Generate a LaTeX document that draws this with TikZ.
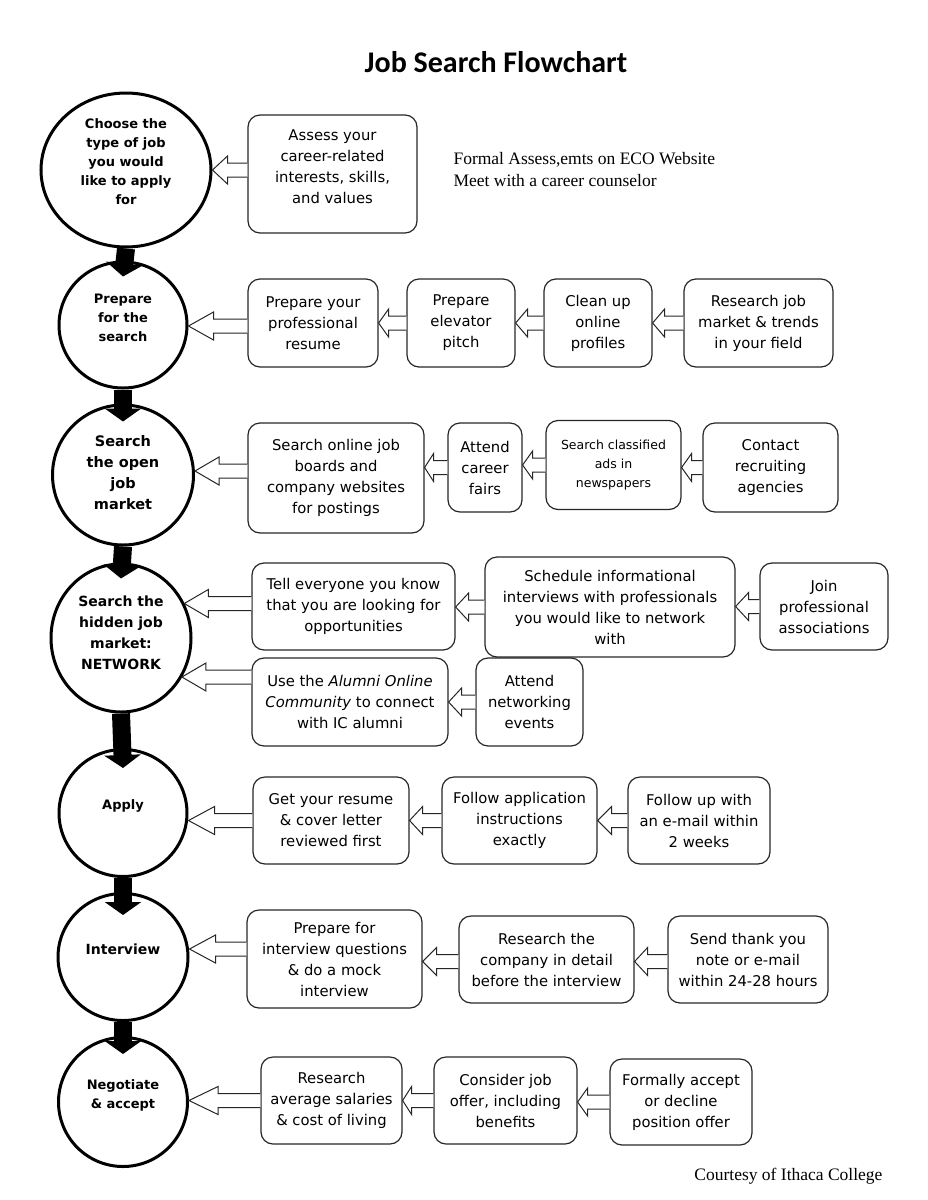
\documentclass[tikz,border=0pt]{standalone}
\usepackage{fontspec}
\setmainfont{Liberation Serif}
\newfontfamily\stepfont{DejaVu Sans}
\newfontfamily\headfont{Carlito}
\usetikzlibrary{arrows.meta,shapes.geometric,calc}

% hollow block arrow: source point, target point, head length
\newcommand{\blockarrow}[3]{%
  \draw[openarrow] let \p1=#1, \p2=#2 in
    (\x1,\y1+7pt) -- (\x2+#3pt,\y1+7pt) -- (\x2+#3pt,\y1+14pt) -- (\x2,\y1)
    -- (\x2+#3pt,\y1-14pt) -- (\x2+#3pt,\y1-7pt) -- (\x1,\y1-7pt);}

\begin{document}
\begin{tikzpicture}[x=1pt,y=-1pt,
	stage/.style={draw,ellipse,line width=3pt,inner sep=0pt},
	stagetext/.style={align=center,font=\stepfont\bfseries\fontsize{13}{19}\selectfont},
	stepbox/.style={draw=black!85,line width=1.2pt,rounded corners=12pt,align=center,inner sep=1pt,font=\stepfont\fontsize{14.8}{21}\selectfont},
	openarrow/.style={draw=black!85,line width=1pt,fill=white},
	flowarrow/.style={line width=18pt,-{Triangle[width=36pt,length=13pt]}}]
			\useasboundingbox (0,0) rectangle (927,1200);
			\node[font=\headfont\bfseries\fontsize{30}{36}\selectfont] (title) at (496,62) {Job Search Flowchart};

			% stages
			\node[stage,minimum width=170,minimum height=154] (c1) at (126,170) {};
			\node[stage,minimum width=128,minimum height=126] (c2) at (123,325) {};
			\node[stage,minimum width=141,minimum height=140] (c3) at (123,475) {};
			\node[stage,minimum width=140,minimum height=148] (c4) at (121,638) {};
			\node[stage,minimum width=128,minimum height=127] (c5) at (123,813) {};
			\node[stage,minimum width=130,minimum height=127] (c6) at (123,957) {};
			\node[stage,minimum width=129,minimum height=129] (c7) at (123,1102) {};
			\node[stagetext] (t1) at ([yshift=8pt]c1.center) {Choose the\\type of job\\you would\\like to apply\\for};
			\node[stagetext] (t2) at ([yshift=7pt]c2.center) {Prepare\\for the\\search};
			\node[stagetext,font=\stepfont\bfseries\fontsize{14.5}{21}\selectfont] (t3) at ([yshift=2pt]c3.center) {Search\\the open\\job\\market};
			\node[stagetext,font=\stepfont\bfseries\fontsize{14}{21}\selectfont] (t4) at ([yshift=5pt]c4.center) {Search the\\hidden job\\market:\\NETWORK};
			\node[stagetext] (t5) at ([yshift=7pt]c5.center) {Apply};
			\node[stagetext,font=\stepfont\bfseries\fontsize{14}{19}\selectfont] (t6) at ([yshift=8pt]c6.center) {Interview};
			\node[stagetext] (t7) at ([yshift=7pt]c7.center) {Negotiate\\\& accept};

			\draw[flowarrow] (c1.south) -- ([yshift=-16pt]c2.north);
			\draw[flowarrow] (c2.south) -- ([yshift=-18pt]c3.north);
			\draw[flowarrow] (c3.south) -- ([yshift=-16pt]c4.north);
			\draw[flowarrow] (c4.south) -- ([yshift=-20pt]c5.north);
			\draw[flowarrow] (c5.south) -- ([yshift=-23pt]c6.north);
			\draw[flowarrow] (c6.south) -- ([yshift=-18pt]c7.north);

			% row 1
			\node[stepbox,minimum width=169,minimum height=118] (assess) at (332.5,174) {Assess your\\career-related\\interests, skills,\\and values\\[-6pt]};
			\node[anchor=west,align=left,font=\fontsize{17.5}{22}\selectfont] (note) at (450,170) {Formal Assess,emts on ECO Website\\Meet with a career counselor};
			\blockarrow{([yshift=4pt]assess.west)}{(c1.east)}{15}

			% row 2
			\node[stepbox,minimum width=130,minimum height=88] (resume) at (313,323) {Prepare your\\professional\\resume};
			\node[stepbox,minimum width=108,minimum height=88] (pitch) at (461,323) {Prepare\\elevator\\pitch};
			\node[stepbox,minimum width=108,minimum height=88] (profiles) at (598,323) {Clean up\\online\\profiles};
			\node[stepbox,minimum width=149,minimum height=88] (trends) at (758.5,323) {Research job\\market \& trends\\in your field};
			\blockarrow{([yshift=-3pt]resume.west)}{(c2.east)}{25}
			\blockarrow{(pitch.west)}{(resume.east)}{10}
			\blockarrow{(profiles.west)}{(pitch.east)}{12}
			\blockarrow{(trends.west)}{(profiles.east)}{12}

			% row 3
			\node[stepbox,minimum width=176,minimum height=110] (postings) at (336,478) {Search online job\\boards and\\company websites\\for postings};
			\node[stepbox,minimum width=74,minimum height=89] (fairs) at (485,467.5) {Attend\\career\\fairs};
			\node[stepbox,minimum width=135,minimum height=89,font=\stepfont\fontsize{12.5}{19}\selectfont] (ads) at (613.5,465) {Search classified\\ads in\\newspapers};
			\node[stepbox,minimum width=135,minimum height=89] (agencies) at (770.5,467.5) {Contact\\recruiting\\agencies};
			\blockarrow{([yshift=7pt]postings.west)}{(c3.east)}{24}
			\blockarrow{(fairs.west)}{(postings.east)}{9}
			\blockarrow{(ads.west)}{(fairs.east)}{10}
			\blockarrow{(agencies.west)}{(ads.east)}{10}

			% row 4
			\node[stepbox,minimum width=203,minimum height=87] (tell) at (353.5,606.5) {Tell everyone you know\\that you are looking for\\opportunities};
			\node[stepbox,minimum width=250,minimum height=100] (schedule) at (610,607) {Schedule informational\\interviews with professionals\\you would like to network\\with};
			\node[stepbox,minimum width=128,minimum height=87] (join) at (824,606.5) {Join\\professional\\associations};
			\node[stepbox,minimum width=196,minimum height=88] (alumni) at (350,702) {Use the \textit{Alumni Online}\\\textit{Community} to connect\\with IC alumni};
			\node[stepbox,minimum width=107,minimum height=88] (events) at (529.5,702) {Attend\\networking\\events};
			\blockarrow{([yshift=3pt]tell.west)}{(c4.29)}{24}
			\blockarrow{(schedule.west)}{(tell.east)}{13}
			\blockarrow{(join.west)}{(schedule.east)}{13}
			\blockarrow{([yshift=25pt]alumni.west)}{(c4.327)}{24}
			\blockarrow{(events.west)}{(alumni.east)}{13}

			% row 5
			\node[stepbox,minimum width=156,minimum height=87] (reviewed) at (331,820.5) {Get your resume\\\& cover letter\\reviewed first};
			\node[stepbox,minimum width=155,minimum height=87] (instructions) at (519.5,820.5) {Follow application\\instructions\\exactly};
			\node[stepbox,minimum width=142,minimum height=87] (followup) at (699,820.5) {Follow up with\\an e-mail within\\2 weeks};
			\blockarrow{(reviewed.west)}{(c5.east)}{26}
			\blockarrow{(instructions.west)}{(reviewed.east)}{13}
			\blockarrow{(followup.west)}{(instructions.east)}{14}

			% row 6
			\node[stepbox,minimum width=175,minimum height=98] (mock) at (334.5,959) {Prepare for\\interview questions\\\& do a mock\\interview};
			\node[stepbox,minimum width=175,minimum height=87] (company) at (546.5,959.5) {Research the\\company in detail\\before the interview};
			\node[stepbox,minimum width=160,minimum height=87] (thanks) at (748,959.5) {Send thank you\\note or e-mail\\within 24-28 hours};
			\blockarrow{([yshift=10pt]mock.west)}{(c6.east)}{26}
			\blockarrow{([yshift=-2pt]company.west)}{(mock.east)}{14}
			\blockarrow{([yshift=-2pt]thanks.west)}{(company.east)}{13}

			% row 7
			\node[stepbox,minimum width=141,minimum height=87] (salaries) at (331.5,1100.5) {Research\\average salaries\\\& cost of living};
			\node[stepbox,minimum width=143,minimum height=87] (offer) at (505.5,1100.5) {Consider job\\offer, including\\benefits};
			\node[stepbox,minimum width=142,minimum height=86] (decline) at (681,1102) {Formally accept\\or decline\\position offer};
			\blockarrow{(salaries.west)}{(c7.east)}{29}
			\blockarrow{(offer.west)}{(salaries.east)}{9}
			\blockarrow{(decline.west)}{(offer.east)}{10}

			\node[anchor=east,font=\fontsize{17.5}{22}\selectfont] (credit) at (886,1176) {Courtesy of Ithaca College};
		\end{tikzpicture}
\end{document}
